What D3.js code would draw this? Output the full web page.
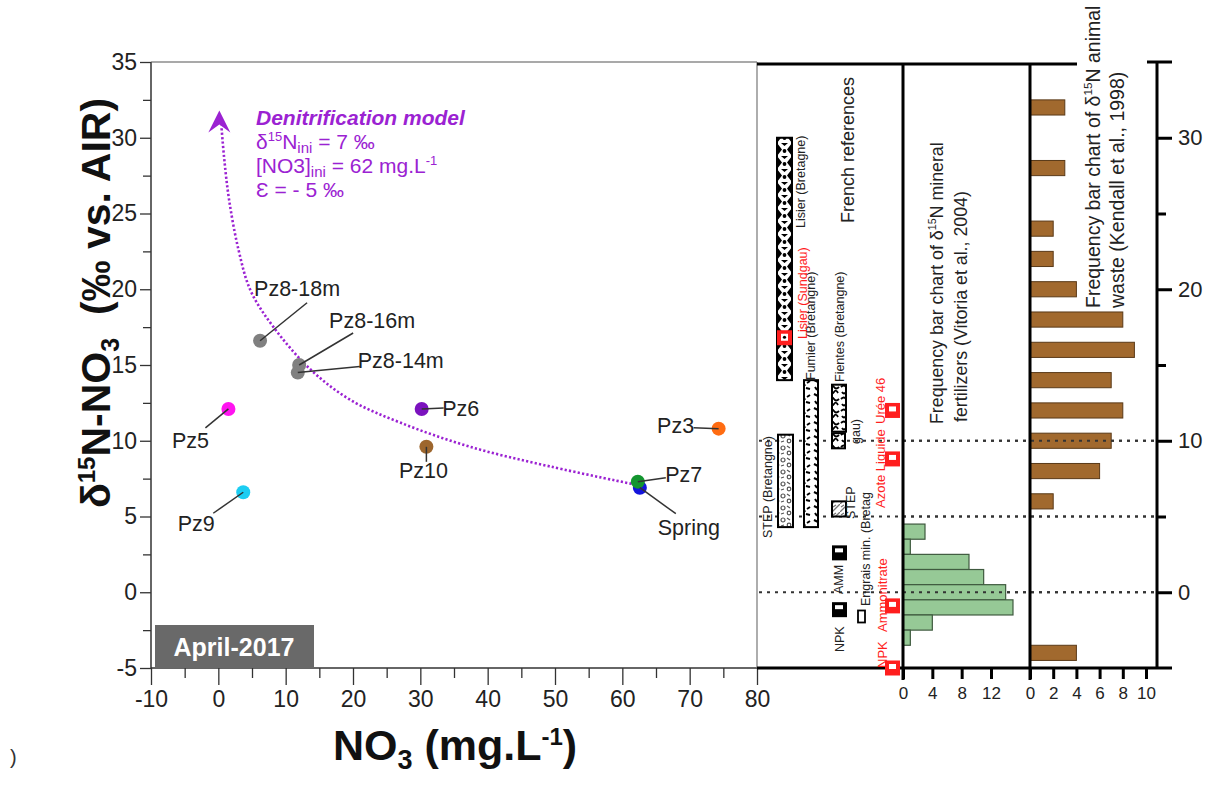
<!DOCTYPE html>
<html><head><meta charset="utf-8">
<script src="https://cdn.jsdelivr.net/npm/d3@7"></script>
<style>
body{margin:0;background:#fff}
svg text{font-family:"Liberation Sans",Arial,sans-serif}
</style>
</head><body>
<svg id="c" width="1219" height="791"></svg>
<script>
// ---------------- DATA ----------------
const sampleNames  = ["Spring","Pz7","Pz3","Pz10","Pz6","Pz9","Pz5","Pz8-14m","Pz8-16m","Pz8-18m"];
const sampleNO3    = [62.6, 62.3, 74.3, 30.9, 30.2, 3.7, 1.5, 11.8, 12.0, 6.2];
const sampleD15N   = [6.9, 7.3, 10.8, 9.6, 12.1, 6.6, 12.1, 14.5, 15.0, 16.6];
const sampleColors = ["#1414dc","#13952f","#ff6c12","#9d662d","#7b12be","#1ccdf2","#ff14f0","#808080","#808080","#808080"];

// denitrification model curve
const modelNO3  = [62, 49.3, 37.4, 27.0, 19.6, 13.7, 8.2, 4.8, 3.0, 1.6, 0.9, 0.45];
const modelD15N = [7.1, 8.3, 9.6, 11.2, 12.7, 14.7, 17.5, 19.9, 22.6, 25.9, 28.5, 30.8];
const modelArrowTip = [0.15, 31.8];

const xTicks = [-10,0,10,20,30,40,50,60,70,80];
const yTicks = [-5,0,5,10,15,20,25,30,35];

// mineral fertilizers frequency (Vitoria et al., 2004)
const fertBins   = [4,3,2,1,0,-1,-2,-3];
const fertCounts = [3,1,9,11,14,15,4,1];
const fertTicks  = [0,4,8,12];

// animal waste frequency (Kendall et al., 1998)
const animBins   = [32,28,24,22,20,18,16,14,12,10,8,6,-4];
const animCounts = [3,3,2,2,4,8,9,7,8,7,6,2,4];
const animTicks  = [0,2,4,6,8,10];
const rightTicks = [0,10,20,30];

// French references: ranges
const refRangeNames = ["Lisier (Bretagne)","Fumier (Bretangne)","Fientes (Bretangne)","Fientes (Sundgau)","STEP (Bretangne)","STEP (Sundgau)"];
const refRangeLow   = [14, 4.3, 10.6, 9.5, 4.3, 5.0];
const refRangeHigh  = [30, 14, 13.7, 10.5, 10.4, 6.0];
// French references: single values (black / white boxes)
const refPointNames = ["AMM","NPK","Engrais min."];
const refPointVals  = [2.6, -1.15, -1.6];
// Sundgau values (red)
const redNames = ["Lisier (Sundgau)","Urée 46","Azote Liquide","Ammonitrate","NPK"];
const redVals  = [16.8, 12, 8.8, -0.9, -5];
const dottedRefs = [10, 5, 0];

// ---------------- LAYOUT ----------------
const svg = d3.select("#c");
const FONT = '"Liberation Sans",Arial,sans-serif';
const x = d3.scaleLinear().domain([-10,80]).range([151,757]);
const y = d3.scaleLinear().domain([-5,35]).range([668,62]);
const xF = d3.scaleLinear().domain([0,17.32]).range([903,1030]);
const xA = d3.scaleLinear().domain([0,10]).range([1030,1146]);
const purple = "#9b22d2";
const red = "#ff1e1e";

const defs = svg.append("defs");
function pat(id,w,h,build){
  const p = defs.append("pattern").attr("id",id).attr("patternUnits","userSpaceOnUse").attr("width",w).attr("height",h);
  p.append("rect").attr("width",w).attr("height",h).attr("fill","#fff");
  build(p);
}
pat("pLisier",15,13,p=>{
  p.attr("x",777).attr("y",0);
  p.append("path").attr("d","M0,0 L5,6.5 L0,13 Z M15,0 L10,6.5 L15,13 Z M4,0 L7.5,3 L11,0 Z").attr("fill","#000");
  p.append("circle").attr("cx",7.5).attr("cy",8).attr("r",1.9).attr("fill","#000");
});
pat("pFumier",14,14,p=>{
  p.append("path").attr("d","M2,2 l4,2 M9,5 l3,-2 M3,9 l2,3 M8,10 l4,1 M6,6 l1,2").attr("stroke","#000").attr("stroke-width",2).attr("fill","none");
});
pat("pFientes",12,12,p=>{
  p.append("path").attr("d","M1,3 q3,-3 5,0 t5,0 M2,8 q2,3 4,0 q2,-3 4,1").attr("stroke","#000").attr("stroke-width",1.8).attr("fill","none");
});
pat("pStep",12,12,p=>{
  p.append("circle").attr("cx",3).attr("cy",4).attr("r",2).attr("fill","none").attr("stroke","#555").attr("stroke-width",1.2);
  p.append("circle").attr("cx",9).attr("cy",9).attr("r",1.8).attr("fill","none").attr("stroke","#555").attr("stroke-width",1.2);
  p.append("path").attr("d","M7,2 l3,2 M1,10 l3,-1").attr("stroke","#555").attr("stroke-width",1.2);
});
pat("pStep2",8,8,p=>{
  p.append("path").attr("d","M0,8 L8,0 M1,3 l3,-2").attr("stroke","#777").attr("stroke-width",1.3);
});

// ---------------- MAIN AXES ----------------
const fmt = d=>String(d);
const gx = svg.append("g").attr("transform","translate(0,668)")
  .call(d3.axisBottom(x).tickValues(xTicks).tickFormat(fmt).tickSizeInner(17).tickSizeOuter(0).tickPadding(6));
const gxm = svg.append("g").attr("transform","translate(0,668)")
  .call(d3.axisBottom(x).tickValues(d3.range(-5,80,10)).tickSize(10).tickFormat(""));
const gy = svg.append("g").attr("transform","translate(151,0)")
  .call(d3.axisLeft(y).tickValues(yTicks).tickFormat(fmt).tickSizeInner(11).tickSizeOuter(0).tickPadding(3));
const gym = svg.append("g").attr("transform","translate(151,0)")
  .call(d3.axisLeft(y).tickValues(d3.range(-2.5,35,5)).tickSize(8).tickFormat(""));
[gx,gxm,gy,gym].forEach(g=>{
  g.select(".domain").remove();
  g.selectAll("line").attr("stroke","#333").attr("stroke-width",1.3);
  g.selectAll("text").attr("font-size",23).attr("fill","#222").style("font-family",FONT);
});
// frame
svg.append("line").attr("x1",151).attr("x2",151).attr("y1",62).attr("y2",668).attr("stroke","#333").attr("stroke-width",1.5);
svg.append("line").attr("x1",151).attr("x2",757).attr("y1",668).attr("y2",668).attr("stroke","#333").attr("stroke-width",1.5);
svg.append("line").attr("x1",151).attr("x2",757).attr("y1",62).attr("y2",62).attr("stroke","#555").attr("stroke-width",1.2);
svg.append("line").attr("x1",757).attr("x2",757).attr("y1",62).attr("y2",668).attr("stroke","#777").attr("stroke-width",1.2);

// axis titles
const yl = svg.append("text").attr("transform","translate(110,303) rotate(-90)")
  .attr("text-anchor","middle").attr("font-size",41).attr("font-weight","bold").attr("fill","#111");
yl.append("tspan").text("δ");
yl.append("tspan").text("15").attr("font-size",24).attr("dy",-15);
yl.append("tspan").text("N-NO").attr("dy",15);
yl.append("tspan").text("3").attr("font-size",25).attr("dy",9);
yl.append("tspan").text("\u00a0 (‰ vs. AIR)").attr("dy",-9);

const xl = svg.append("text").attr("x",455).attr("y",760)
  .attr("text-anchor","middle").attr("font-size",43).attr("font-weight","bold").attr("fill","#111");
xl.append("tspan").text("NO");
xl.append("tspan").text("3").attr("font-size",27).attr("dy",9);
xl.append("tspan").text(" (mg.L").attr("dy",-9);
xl.append("tspan").text("-1").attr("font-size",24).attr("dy",-15);
xl.append("tspan").text(")").attr("dy",15);

svg.append("text").attr("x",10).attr("y",764).attr("font-size",20).attr("fill","#333").text(")");

// April box
svg.append("rect").attr("x",155).attr("y",625).attr("width",159).attr("height",43).attr("fill","#696969");
svg.append("text").attr("x",234).attr("y",656).attr("text-anchor","middle").attr("font-size",25)
  .attr("font-weight","bold").attr("fill","#fff").text("April-2017");

// ---------------- MODEL CURVE ----------------
const pts = modelNO3.map((v,i)=>[x(v),y(modelD15N[i])]);
svg.append("path").attr("d",d3.line().curve(d3.curveCatmullRom)(pts))
  .attr("fill","none").attr("stroke",purple).attr("stroke-width",2.6).attr("stroke-dasharray","2.2,2.2");
const tx = x(modelArrowTip[0]), ty = y(modelArrowTip[1]);
svg.append("path").attr("d",`M${tx},${ty} L${tx+11},${ty+22} L${tx},${ty+14} L${tx-11},${ty+22} Z`).attr("fill",purple);

const mt = svg.append("g").attr("fill",purple);
mt.append("text").attr("x",256).attr("y",125).attr("font-size",21).attr("font-weight","bold").attr("font-style","italic").text("Denitrification model");
const l2 = mt.append("text").attr("x",256).attr("y",149).attr("font-size",21);
l2.append("tspan").text("δ"); l2.append("tspan").text("15").attr("font-size",13).attr("dy",-8);
l2.append("tspan").text("N").attr("dy",8); l2.append("tspan").text("ini").attr("font-size",15).attr("dy",4);
l2.append("tspan").text(" = 7 ‰").attr("dy",-4);
const l3 = mt.append("text").attr("x",256).attr("y",173).attr("font-size",21);
l3.append("tspan").text("[NO3]"); l3.append("tspan").text("ini").attr("font-size",15).attr("dy",4);
l3.append("tspan").text(" = 62 mg.L").attr("dy",-4); l3.append("tspan").text("-1").attr("font-size",13).attr("dy",-8);
mt.append("text").attr("x",256).attr("y",197).attr("font-size",21).text("Ɛ = - 5 ‰");

// ---------------- SAMPLES ----------------
const labelLayout = [
 [36,26, 49,40],[28,-4, 46,-7],[-25,-1, -43,-3],[0,15, -3,24],[22,-1, 39,0],
 [-30,21, -47,31],[-23,19, -38,32],[62,-6, 103,-12],[54,-32, 73,-45],[47,-38, 37,-52]
];
const sg = svg.append("g");
sampleNames.forEach((n,i)=>{
  const px = x(sampleNO3[i]), py = y(sampleD15N[i]);
  sg.append("circle").attr("cx",px).attr("cy",py).attr("r",7).attr("fill",sampleColors[i]);
});
sampleNames.forEach((n,i)=>{
  const px = x(sampleNO3[i]), py = y(sampleD15N[i]); const L = labelLayout[i];
  sg.append("line").attr("x1",px).attr("y1",py).attr("x2",px+L[0]).attr("y2",py+L[1]).attr("stroke","#333").attr("stroke-width",1.5);
  sg.append("text").attr("x",px+L[2]).attr("y",py+L[3]).attr("dy","0.35em").attr("text-anchor","middle")
    .attr("font-size",21.5).attr("fill","#222").text(n);
});

// ---------------- RIGHT PANELS ----------------
dottedRefs.forEach(v=>{
  svg.append("line").attr("x1",759).attr("x2",1157).attr("y1",y(v)).attr("y2",y(v))
    .attr("stroke","#333").attr("stroke-width",2).attr("stroke-dasharray","3,5");
});
fertBins.forEach((b,i)=>{
  svg.append("rect").attr("x",xF(0)).attr("y",y(b+0.5)).attr("width",xF(fertCounts[i])-xF(0)).attr("height",y(b-0.5)-y(b+0.5))
    .attr("fill","#96c996").attr("stroke","#3f5a3f").attr("stroke-width",1.2);
});
animBins.forEach((b,i)=>{
  svg.append("rect").attr("x",xA(0)).attr("y",y(b+0.5)).attr("width",xA(animCounts[i])-xA(0)).attr("height",y(b-0.5)-y(b+0.5))
    .attr("fill","#a1692e").attr("stroke","#5a3a18").attr("stroke-width",1);
});
dottedRefs.forEach(v=>{
  svg.append("line").attr("x1",903).attr("x2",1157).attr("y1",y(v)).attr("y2",y(v))
    .attr("stroke","#333").attr("stroke-width",2).attr("stroke-dasharray","3,5");
});

const thick = (x1,y1,x2,y2,w=3)=>svg.append("line").attr("x1",x1).attr("y1",y1).attr("x2",x2).attr("y2",y2).attr("stroke","#000").attr("stroke-width",w);
thick(757,64,1077,64);
thick(903,64,903,680);
thick(1030,64,1030,680);
thick(757,668,1147,668);

const gF = svg.append("g").attr("transform","translate(0,668)").call(d3.axisBottom(xF).tickValues(fertTicks).tickSize(11).tickSizeOuter(0).tickPadding(8));
const gA = svg.append("g").attr("transform","translate(0,668)").call(d3.axisBottom(xA).tickValues(animTicks).tickSize(11).tickSizeOuter(0).tickPadding(8));
[gF,gA].forEach(g=>{
  g.select(".domain").remove();
  g.selectAll("line").attr("stroke","#000").attr("stroke-width",3);
  g.selectAll("text").attr("font-size",17).attr("fill","#222").style("font-family",FONT);
});
const gR = svg.append("g").attr("transform","translate(1157,0)").call(d3.axisRight(y).tickValues(rightTicks).tickSize(15).tickSizeOuter(0).tickPadding(6));
const gRm = svg.append("g").attr("transform","translate(1157,0)").call(d3.axisRight(y).tickValues([5,15,25]).tickSize(9).tickFormat(""));
[gR,gRm].forEach(g=>{
  g.select(".domain").remove();
  g.selectAll("line").attr("stroke","#000").attr("stroke-width",3);
  g.selectAll("text").attr("font-size",22).attr("fill","#222").style("font-family",FONT);
});
thick(1157,y(35),1157,y(-5));
thick(1147,y(35),1172,y(35));
thick(1147,y(-5),1172,y(-5));

// French references: ranges
const rangeLayout = [
 [777,15,"url(#pLisier)"],[804,14,"url(#pFumier)"],[832,14,"url(#pFientes)"],[832,13,"url(#pFientes)"],
 [778,15,"url(#pStep)"],[832,14,"url(#pStep2)"]
];
refRangeNames.forEach((n,i)=>{
  const L = rangeLayout[i];
  svg.append("rect").attr("x",L[0]).attr("width",L[1]).attr("y",y(refRangeHigh[i])).attr("height",y(refRangeLow[i])-y(refRangeHigh[i]))
    .attr("fill",L[2]).attr("stroke","#000").attr("stroke-width",2);
});
[0,1].forEach(i=>{
  const cy = y(refPointVals[i]);
  svg.append("rect").attr("x",832).attr("y",cy-7.5).attr("width",15).attr("height",15).attr("fill","#000");
  svg.append("rect").attr("x",835).attr("y",cy-4.5).attr("width",8).attr("height",4).attr("fill","#fff");
});
{
  const cy = y(refPointVals[2]);
  svg.append("rect").attr("x",858).attr("y",cy-6).attr("width",7).attr("height",12).attr("fill","#fff").attr("stroke","#000").attr("stroke-width",1.8);
}
redNames.forEach((n,i)=>{
  const cy = y(redVals[i]);
  const bx = i===0 ? 777 : 885;
  svg.append("rect").attr("x",bx).attr("y",cy-7.5).attr("width",15).attr("height",15).attr("fill",red);
  svg.append("rect").attr("x",bx+4).attr("y",cy-4).attr("width",7).attr("height",i===0?7:5).attr("fill","#fff");
  if(i===0) svg.append("circle").attr("cx",bx+7.5).attr("cy",cy-0.5).attr("r",1.6).attr("fill","#000");
});

function rot(txt,cx,y0,size,color,anchor="start"){
  return svg.append("text").attr("transform",`translate(${cx},${y0}) rotate(-90)`).attr("dy","0.35em")
    .attr("text-anchor",anchor).attr("font-size",size).attr("fill",color).text(txt);
}
rot("Lisier (Bretagne)",801,228,12.5,"#222");
rot("Fumier (Bretangne)",811,380,12.5,"#222");
rot("Lisier (Sundgau)",803,339,12.5,red);
rot("Fientes (Bretangne)",840,382,12.5,"#222");
rot("gau)",856,444,12.5,"#222");
rot("STEP (Bretangne)",768,538,12.5,"#222");
rot("STEP",851,519,12.5,"#222");
rot("Engrais min. (Bretag",866,606,12.5,"#222");
rot("AMM",839,594,12.5,"#222");
rot("NPK",840,652,12.5,"#222");
rot("Urée 46",880,424,13,red);
rot("Azote Liquide",880,508,13,red);
rot("Ammonitrate",882,632,13,red);
rot("NPK",882,668,13,red);
rot("French references",848,150,18,"#222","middle");

function rotSup(parts,cx,y0,size){
  const t = svg.append("text").attr("transform",`translate(${cx},${y0}) rotate(-90)`).attr("dy","0.35em")
    .attr("font-size",size).attr("fill","#222");
  parts.forEach(p=>{
    if(p[1]==="sup") t.append("tspan").text(p[0]).attr("font-size",size*0.6).attr("dy",-size*0.4);
    else if(p[1]==="back") t.append("tspan").text(p[0]).attr("dy",size*0.4);
    else t.append("tspan").text(p[0]);
  });
}
rotSup([["Frequency bar chart of δ"],["15","sup"],["N mineral","back"]],937,424,17.8);
rotSup([["fertilizers (Vitoria et al., 2004)"]],961,422,17.8);
rotSup([["Frequency bar chart of δ"],["15","sup"],["N animal","back"]],1093,308,19.5);
rotSup([["waste (Kendall et al., 1998)"]],1117,308,19.5);
</script>
</body></html>
